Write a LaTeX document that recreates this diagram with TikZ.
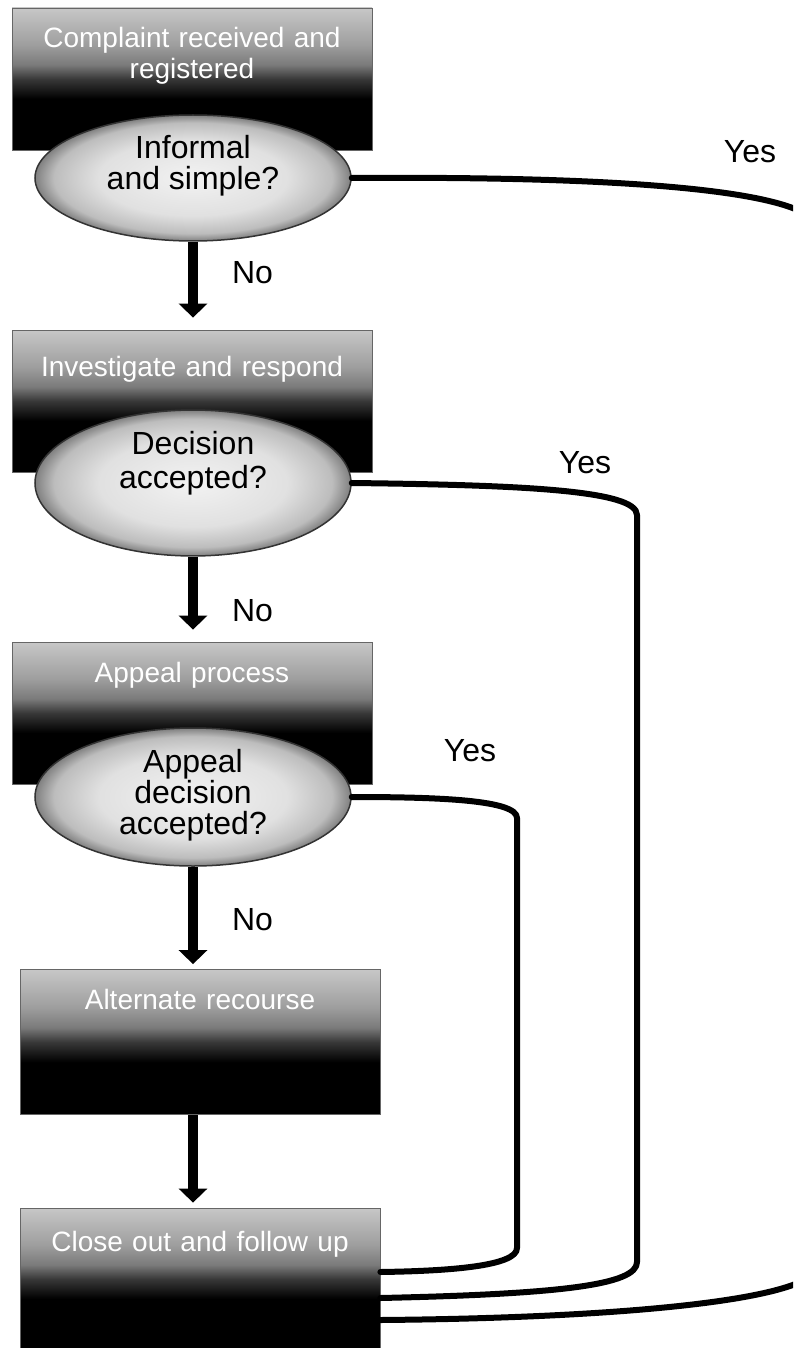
\documentclass[tikz,border=0pt]{standalone}
\usepackage{fontspec}
\setmainfont{Liberation Sans}
\usepackage{tikz}
\usetikzlibrary{arrows.meta, calc, shapes.geometric, positioning}

\pgfdeclareverticalshading{stepshade}{100bp}{color(0bp)=(black); color(43bp)=(black); color(50bp)=(black!78); color(55bp)=(black!52); color(62bp)=(black!38); color(75bp)=(black!22); color(100bp)=(black!22)}
\pgfdeclareradialshading{askshade}{\pgfpoint{0bp}{0bp}}{color(0bp)=(black!5); color(15bp)=(black!12); color(22bp)=(black!26); color(25bp)=(black!50); color(50bp)=(black!50)}

\begin{document}
\begin{tikzpicture} [x=1pt, y=-1pt,
	stepbox/.style={rectangle, shade, shading=stepshade, draw=black!60, line width=0.8pt,
		minimum width=360pt, minimum height=142pt, inner sep=0pt},
	steptitle/.style={text=white, inner sep=0pt, align=center, text width=340pt,
		font=\fontsize{28}{31}\selectfont},
	askoval/.style={ellipse, shade, shading=askshade, draw=black!80, line width=1.5pt,
		minimum width=316pt, inner sep=0pt, align=center, font=\fontsize{32}{31}\selectfont},
	flowarrow/.style={line width=10pt, -{Triangle[width=28pt, length=14pt]}},
	yesline/.style={line width=6pt, line join=round, line cap=round},
	answer/.style={inner sep=0pt, font=\fontsize{32}{34}\selectfont}]
	
	\useasboundingbox (0,0) rectangle (793,1348);
	\clip (0,0) rectangle (793,1348);
	
	% the steps
	\node[stepbox] (complaint) at (192,79) {};
	\node[stepbox] (investigate) at (192,401) {};
	\node[stepbox] (appeal) at (192,713) {};
	\node[stepbox, minimum height=145pt] (recourse) at (200,1042) {};
	\node[stepbox] (closeout) at (200,1279) {};
	
	\node[steptitle, below=19pt of complaint.north] (complainttitle) {Complaint received and\\registered};
	\node[steptitle, below=26pt of investigate.north] (investigatetitle) {Investigate and respond};
	\node[steptitle, below=20pt of appeal.north] (appealtitle) {Appeal process};
	\node[steptitle, below=20pt of recourse.north] (recoursetitle) {Alternate recourse};
	\node[steptitle, below=23pt of closeout.north] (closeouttitle) {Close out and follow up};
	
	% the questions
	\node[askoval, minimum height=126pt, text depth=32pt] (informal) at (193,178) {Informal\\and simple?};
	\node[askoval, minimum height=140pt, text depth=46pt, font=\fontsize{32}{34}\selectfont] (decision) at (193,483) {Decision\\accepted?};
	\node[askoval, minimum height=138pt, text depth=11pt] (appealask) at (193,797) {Appeal\\decision\\accepted?};
	
	% the No path
	\draw[flowarrow, shorten >=12pt] (informal.south) -- (informal.south |- investigate.north)
		node[answer, pos=0.35, right=34pt] {No};
	\draw[flowarrow, shorten >=12pt] (decision.south) -- (decision.south |- appeal.north)
		node[answer, pos=0.63, right=34pt] {No};
	\draw[flowarrow, shorten >=5pt] (appealask.south) -- (appealask.south |- recourse.north)
		node[answer, pos=0.52, right=34pt] {No};
	\draw[flowarrow, shorten >=5pt] (recourse.south -| appealask.south) -- (appealask.south |- closeout.north);
	
	% the Yes paths
	\coordinate (in1) at ($(closeout.east)+(0,41)$);
	\coordinate (in2) at ($(closeout.east)+(0,19)$);
	\coordinate (in3) at ($(closeout.east)+(0,-7)$);
	
	\draw[yesline] (informal.east) .. controls (620,176) and (818,190) .. (818,230)
		-- (818,1265) .. controls (818,1300) and (620,1318) .. (in1);
	\draw[yesline] (decision.east) .. controls (520,485) and (637,490) .. (637,515)
		-- (637,1262) .. controls (637,1285) and (560,1294) .. (in2);
	\draw[yesline] (appealask.east) .. controls (440,797) and (517,800) .. (517,818)
		-- (517,1248) .. controls (517,1266) and (450,1271) .. (in3);
	
	\node[answer] (yes1) at (750,152) {Yes};
	\node[answer] (yes2) at (585,463) {Yes};
	\node[answer] (yes3) at (470,751) {Yes};
	
\end{tikzpicture}
\end{document}
